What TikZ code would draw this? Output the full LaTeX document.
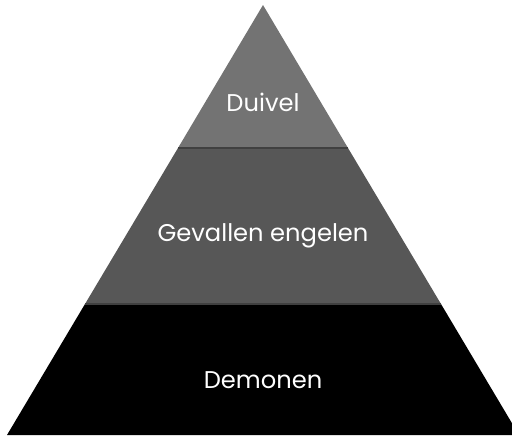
\documentclass[tikz,border=0pt]{standalone}
\usepackage{fontspec}
\setmainfont{Poppins}
\definecolor{topgray}{HTML}{737373}
\definecolor{midgray}{HTML}{575757}
\tikzset{
  layer/.style={draw=none},
  label/.style={text=white,font=\fontsize{12.1}{14}\selectfont,inner sep=0pt}
}
\begin{document}
\begin{tikzpicture}[x=0.5pt,y=-0.5pt]
  \useasboundingbox (0,0) rectangle (512,435);
  \clip (0,0) rectangle (512,435);
  % pyramid corners
  \coordinate (apex) at (263,5);
  \coordinate (l1) at (178,148);
  \coordinate (r1) at (348,148);
  \coordinate (l2) at (85,304);
  \coordinate (r2) at (441,304);
  \coordinate (l3) at (7,435);
  \coordinate (r3) at (519,435);
  % layers
  \fill[layer,topgray] (apex) -- (r1) -- (l1) -- cycle;
  \fill[layer,midgray] (l1) -- (r1) -- (r2) -- (l2) -- cycle;
  \fill[layer,black] (l2) -- (r2) -- (r3) -- (l3) -- cycle;
  \draw[black!75,line width=0.6pt] (l1) -- (r1);
  \draw[black!75,line width=0.6pt] (l2) -- (r2);
  % labels
  \node[label] (duivel) at (263,102) {Duivel};
  \node[label] (engelen) at (263,236) {Gevallen engelen};
  \node[label] (demonen) at (263,380) {Demonen};
\end{tikzpicture}
\end{document}
